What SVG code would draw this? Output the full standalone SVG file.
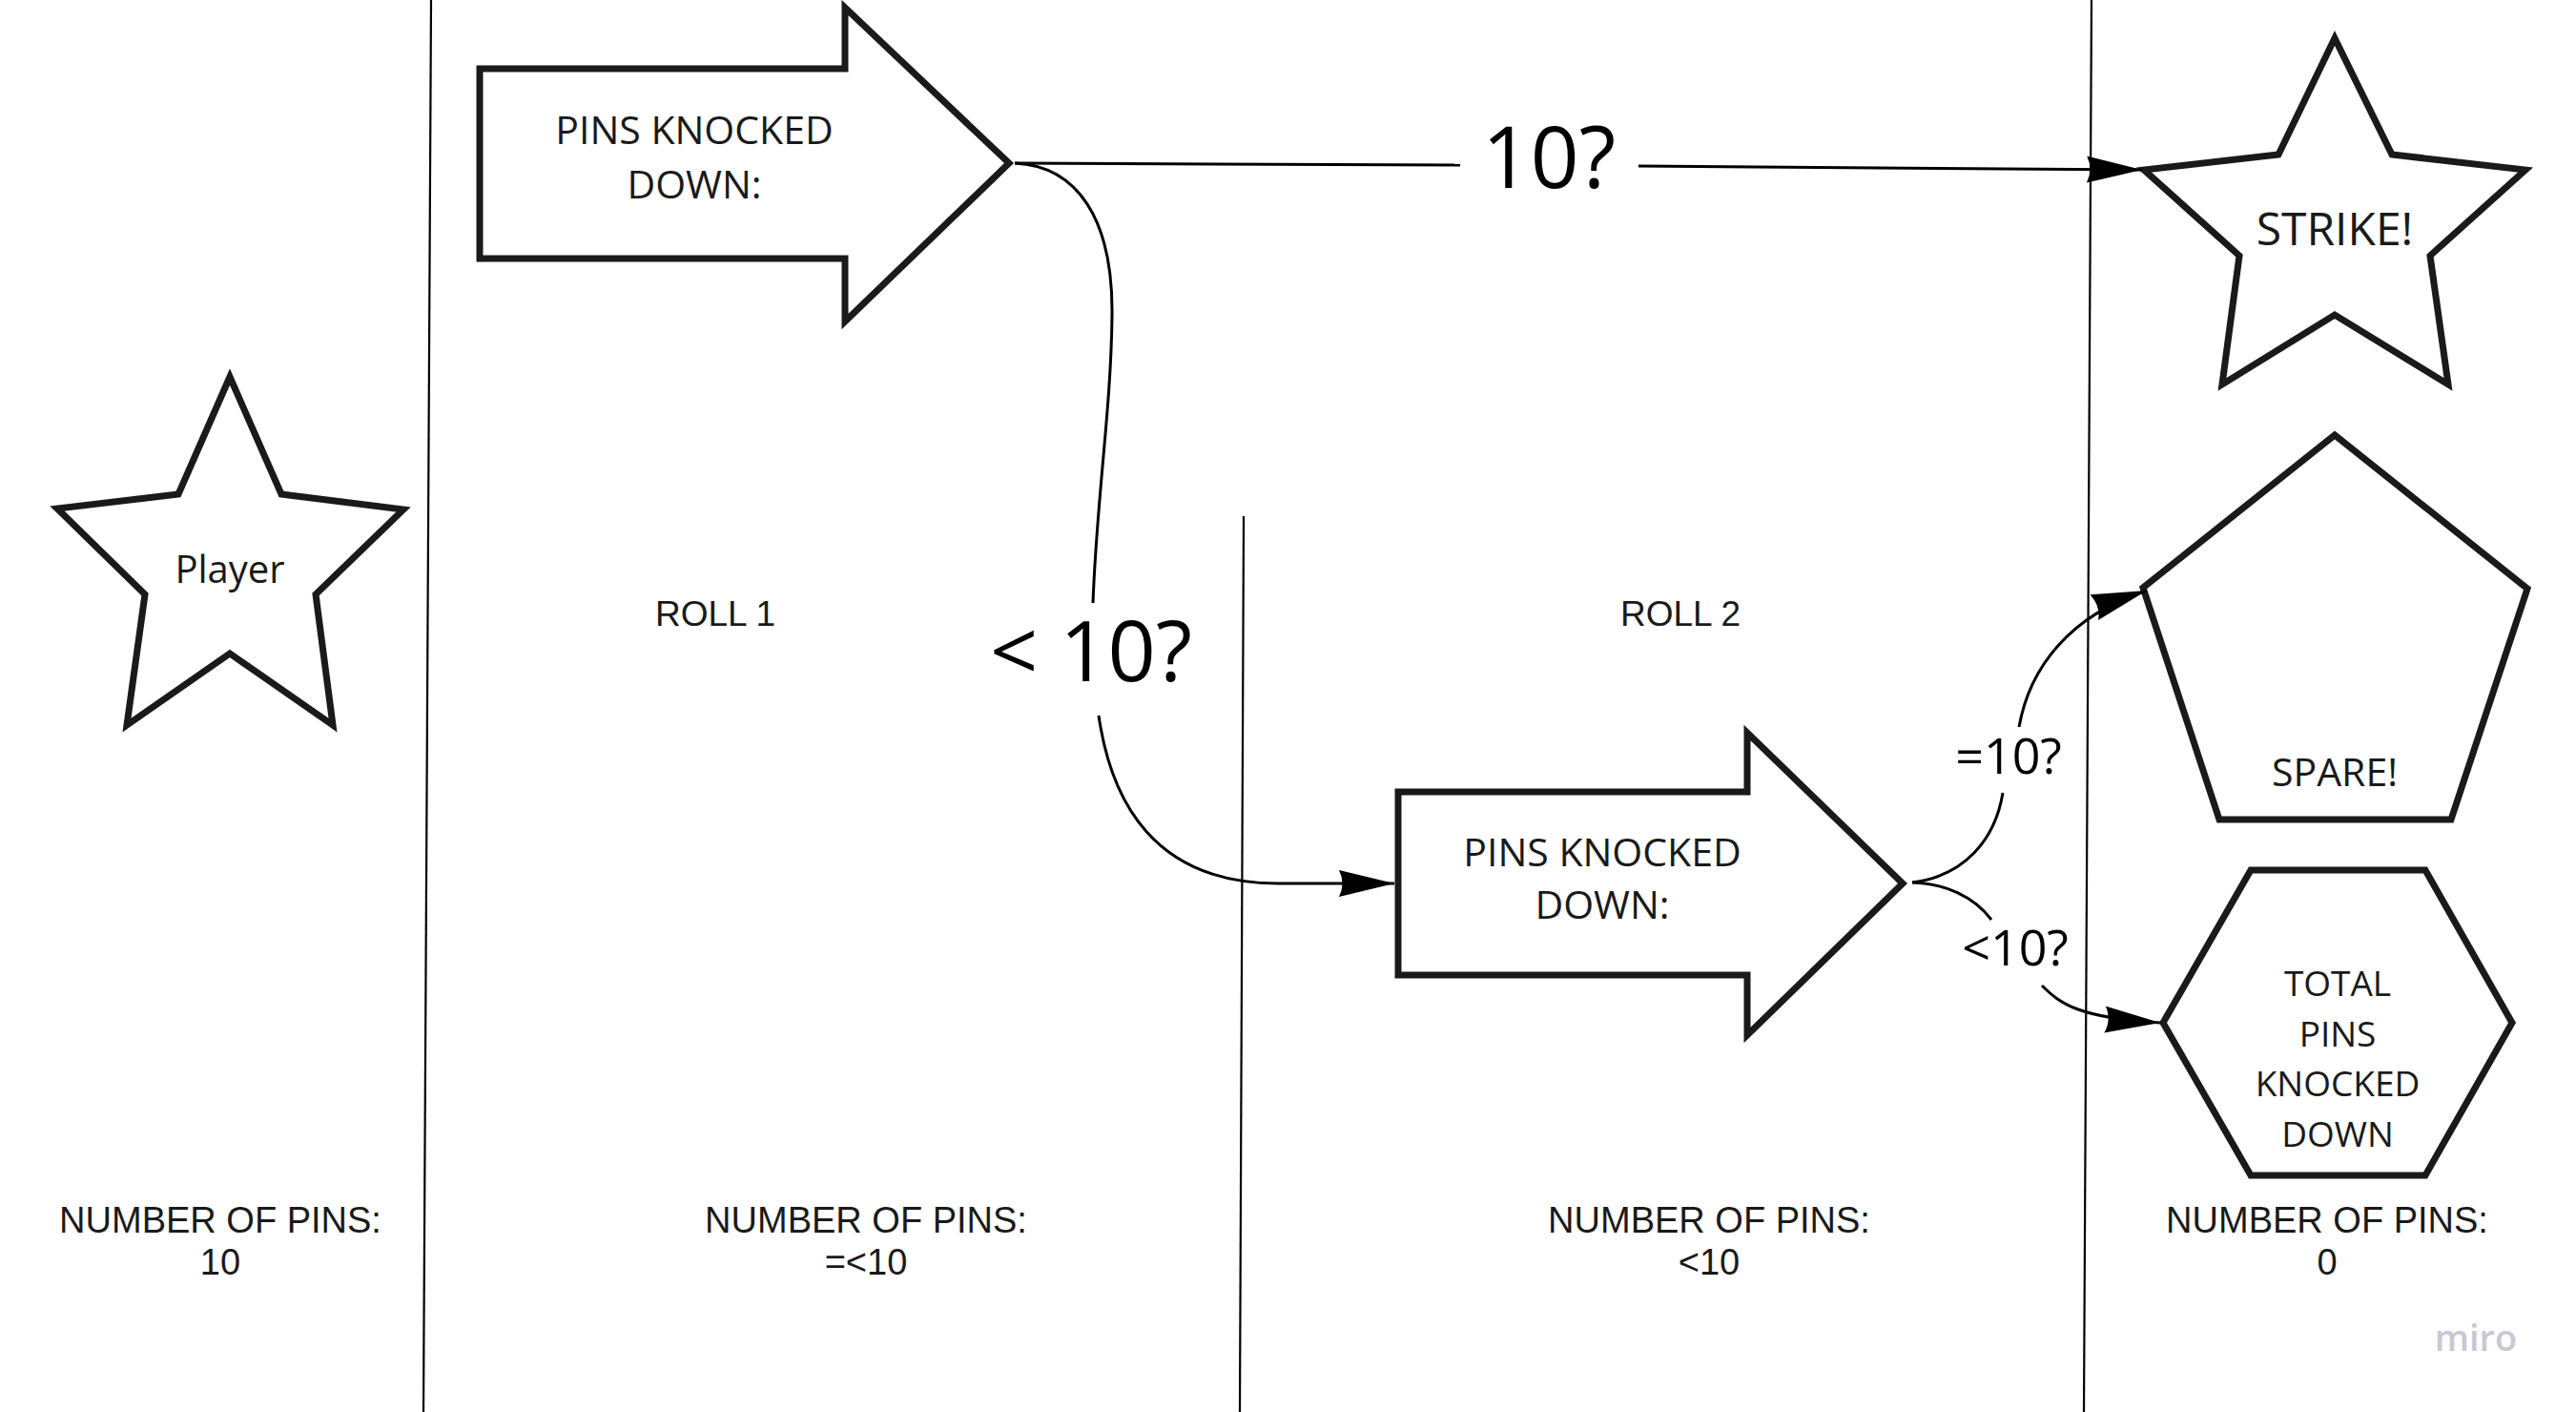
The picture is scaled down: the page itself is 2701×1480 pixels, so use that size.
<svg xmlns="http://www.w3.org/2000/svg" width="2701" height="1480" viewBox="0 0 2701 1480">
  <style>
    .shape { fill: #ffffff; stroke: #1a1a1a; stroke-width: 7; stroke-linejoin: miter; }
    .divider { stroke: #000000; stroke-width: 2.2; fill: none; }
    .conn { stroke: #000000; stroke-width: 3; fill: none; }
    .st { font-family: "Open Sans", "Noto Sans", sans-serif; fill: #1a1a1a; text-anchor: middle; }
    .lbl { font-family: "Open Sans", "Noto Sans", sans-serif; fill: #000000; text-anchor: middle; }
    .plain { font-family: "Liberation Sans", Arial, sans-serif; fill: #1a1a1a; text-anchor: middle; }
  </style>
  <defs>
    <marker id="arrow" markerUnits="userSpaceOnUse" markerWidth="60" markerHeight="30" refX="58" refY="14" orient="auto">
      <path d="M0,0 L58,14 L0,28 Q7,14 0,0 Z" fill="#000000"/>
    </marker>
  </defs>
  <rect x="0" y="0" width="2701" height="1480" fill="#ffffff"/>

  <g id="dividers">
    <line class="divider" x1="452" y1="0" x2="444" y2="1480"/>
    <line class="divider" x1="2193" y1="0" x2="2185" y2="1480"/>
    <line class="divider" x1="1304" y1="541" x2="1300" y2="1480"/>
  </g>

  <g id="column-labels">
    <text class="plain" x="750" y="656" font-size="37">ROLL 1</text>
    <text class="plain" x="1762" y="656" font-size="37">ROLL 2</text>
    <text class="plain" font-size="38" x="231" y="1292">NUMBER OF PINS:</text>
    <text class="plain" font-size="38" x="231" y="1336">10</text>
    <text class="plain" font-size="38" x="908" y="1292">NUMBER OF PINS:</text>
    <text class="plain" font-size="38" x="908" y="1336">=&lt;10</text>
    <text class="plain" font-size="38" x="1792" y="1292">NUMBER OF PINS:</text>
    <text class="plain" font-size="38" x="1792" y="1336">&lt;10</text>
    <text class="plain" font-size="38" x="2440" y="1292">NUMBER OF PINS:</text>
    <text class="plain" font-size="38" x="2440" y="1336">0</text>
  </g>

  <g id="player">
    <polygon class="shape" points="241,395 187,518 60,533 152,623 133,760 241,685 349,760 331,623 423,534 295,518"/>
    <text class="st" x="241" y="611" font-size="40">Player</text>
  </g>

  <g id="roll1-arrow">
    <polygon class="shape" points="503,72 886,72 886,8 1058,171 886,337 886,271 503,271"/>
    <text class="st" x="728" y="151" font-size="41">PINS KNOCKED</text>
    <text class="st" x="728" y="208" font-size="41">DOWN:</text>
  </g>

  <g id="roll2-arrow">
    <polygon class="shape" points="1466,830 1832,830 1832,768 1995,926 1832,1085 1832,1022 1466,1022"/>
    <text class="st" x="1680" y="908" font-size="41">PINS KNOCKED</text>
    <text class="st" x="1680" y="963" font-size="41">DOWN:</text>
  </g>

  <g id="strike">
    <polygon class="shape" points="2448,40 2389,162 2248,178 2348,268 2330,403 2448,330 2567,403 2548,268 2648,178 2508,162"/>
    <text class="st" x="2448" y="257" font-size="48">STRIKE!</text>
  </g>

  <g id="spare">
    <polygon class="shape" points="2448,456 2650,617 2570,859 2327,859 2247,616"/>
    <text class="st" x="2448" y="824" font-size="41">SPARE!</text>
  </g>

  <g id="total">
    <polygon class="shape" points="2360,912 2543,912 2634,1072 2543,1232 2360,1232 2268,1072"/>
    <text class="st" x="2451" y="1044" font-size="37">TOTAL</text>
    <text class="st" x="2451" y="1097" font-size="37">PINS</text>
    <text class="st" x="2451" y="1149" font-size="37">KNOCKED</text>
    <text class="st" x="2451" y="1202" font-size="37">DOWN</text>
  </g>

  <g id="connectors">
    <!-- 10? : roll1 -> strike -->
    <path class="conn" d="M1064,171 L1531,173"/>
    <path class="conn" d="M1718,174 L2246,178" marker-end="url(#arrow)"/>
    <text class="lbl" x="1624" y="197" font-size="89">10?</text>

    <!-- < 10? : roll1 -> roll2 -->
    <path class="conn" d="M1064,171 C1130,174 1167,230 1166,330 C1165,430 1150,520 1146,632"/>
    <path class="conn" d="M1152,750 C1165,840 1210,926 1340,926 L1462,926" marker-end="url(#arrow)"/>
    <text class="lbl" x="1144" y="714" font-size="88">&lt; 10?</text>

    <!-- =10? : roll2 -> spare -->
    <path class="conn" d="M2005,925 C2060,918 2092,880 2100,831"/>
    <path class="conn" d="M2117,762 C2128,700 2170,645 2251,619" marker-end="url(#arrow)"/>
    <text class="lbl" x="2106" y="811" font-size="52">=10?</text>

    <!-- <10? : roll2 -> total -->
    <path class="conn" d="M2005,925 C2040,926 2070,940 2088,964"/>
    <path class="conn" d="M2141,1033 C2160,1052 2180,1067 2265,1072" marker-end="url(#arrow)"/>
    <text class="lbl" x="2113" y="1012" font-size="52">&lt;10?</text>
  </g>

  <text x="2596" y="1416" font-family="'Open Sans', 'Noto Sans', sans-serif" font-weight="600" font-size="38" fill="#c6c9d3" text-anchor="middle">miro</text>
</svg>
